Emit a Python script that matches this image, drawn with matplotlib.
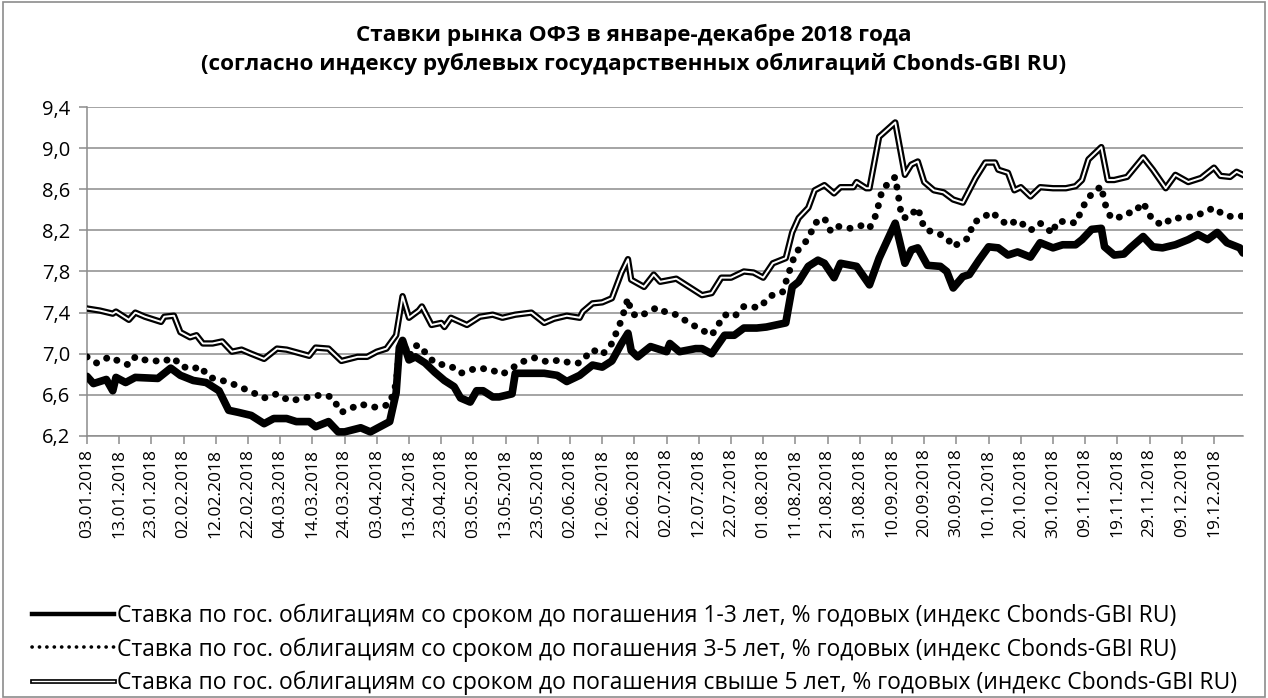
import numpy as np
import pandas as pd
import matplotlib
matplotlib.use("Agg")
import matplotlib.pyplot as plt
from matplotlib.lines import Line2D
from matplotlib.patches import Rectangle
from matplotlib.ticker import FuncFormatter

plt.rcParams['font.family'] = ['Open Sans', 'DejaVu Sans']

# ставки 1-3 года
dates_1_3 = ["03.01", "05.01", "09.01", "11.01", "12.01", "15.01", "18.01", "25.01", "29.01", "01.02",
             "05.02", "09.02", "13.02", "16.02", "19.02", "23.02", "27.02", "02.03", "06.03", "09.03",
             "13.03", "15.03", "19.03", "22.03", "24.03", "29.03", "01.04", "04.04", "07.04", "09.04",
             "10.04", "11.04", "13.04", "15.04", "18.04", "21.04", "24.04", "27.04", "29.04", "02.05",
             "04.05", "06.05", "09.05", "11.05", "15.05", "16.05", "21.05", "25.05", "29.05", "01.06",
             "05.06", "09.06", "12.06", "15.06", "18.06", "20.06", "21.06", "23.06", "27.06", "02.07",
             "03.07", "06.07", "11.07", "13.07", "16.07", "20.07", "23.07", "26.07", "30.07", "02.08",
             "08.08", "10.08", "12.08", "15.08", "18.08", "20.08", "23.08", "25.08", "30.08", "03.09",
             "06.09", "11.09", "14.09", "16.09", "18.09", "21.09", "25.09", "27.09", "29.09", "02.10",
             "04.10", "07.10", "10.10", "13.10", "16.10", "19.10", "23.10", "26.10", "30.10", "02.11",
             "06.11", "08.11", "11.11", "14.11", "15.11", "18.11", "21.11", "23.11", "27.11", "30.11",
             "03.12", "07.12", "11.12", "14.12", "17.12", "20.12", "23.12", "27.12", "28.12"]
rate_1_3 = [6.78, 6.71, 6.75, 6.64, 6.77, 6.72, 6.77, 6.76, 6.86, 6.79,
            6.74, 6.72, 6.64, 6.45, 6.43, 6.40, 6.32, 6.37, 6.37, 6.34,
            6.34, 6.29, 6.34, 6.24, 6.24, 6.28, 6.24, 6.29, 6.34, 6.62,
            7.06, 7.13, 6.94, 6.97, 6.91, 6.82, 6.74, 6.68, 6.57, 6.53,
            6.64, 6.64, 6.58, 6.58, 6.61, 6.81, 6.81, 6.81, 6.79, 6.73,
            6.79, 6.89, 6.87, 6.93, 7.10, 7.20, 7.03, 6.97, 7.07, 7.02,
            7.10, 7.02, 7.05, 7.05, 7.00, 7.18, 7.18, 7.25, 7.25, 7.26,
            7.30, 7.65, 7.70, 7.85, 7.91, 7.88, 7.74, 7.88, 7.85, 7.67,
            7.93, 8.27, 7.88, 8.01, 8.03, 7.86, 7.85, 7.80, 7.64, 7.75,
            7.77, 7.91, 8.04, 8.03, 7.96, 7.99, 7.94, 8.08, 8.03, 8.06,
            8.06, 8.11, 8.21, 8.22, 8.04, 7.96, 7.97, 8.03, 8.14, 8.04,
            8.03, 8.06, 8.11, 8.16, 8.11, 8.18, 8.08, 8.03, 7.98]

# ставки 3-5 лет
dates_3_5 = ["03.01", "06.01", "10.01", "12.01", "16.01", "18.01", "20.01", "23.01", "26.01", "30.01",
             "01.02", "05.02", "07.02", "10.02", "13.02", "17.02", "20.02", "23.02", "27.02", "03.03",
             "07.03", "13.03", "17.03", "20.03", "23.03", "26.03", "29.03", "02.04", "05.04", "07.04",
             "09.04", "10.04", "11.04", "13.04", "15.04", "17.04", "18.04", "21.04", "24.04", "26.04",
             "29.04", "04.05", "08.05", "12.05", "15.05", "18.05", "22.05", "26.05", "30.05", "02.06",
             "05.06", "09.06", "12.06", "15.06", "18.06", "20.06", "21.06", "23.06", "26.06", "29.06",
             "02.07", "05.07", "09.07", "13.07", "16.07", "18.07", "20.07", "23.07", "26.07", "31.07",
             "03.08", "07.08", "09.08", "11.08", "14.08", "16.08", "17.08", "20.08", "22.08", "24.08",
             "28.08", "01.09", "03.09", "05.09", "06.09", "07.09", "11.09", "12.09", "13.09", "15.09",
             "18.09", "20.09", "22.09", "25.09", "27.09", "29.09", "01.10", "04.10", "05.10", "08.10",
             "11.10", "13.10", "16.10", "19.10", "23.10", "26.10", "30.10", "31.10", "03.11", "06.11",
             "09.11", "10.11", "12.11", "14.11", "15.11", "17.11", "20.11", "22.11", "24.11", "27.11",
             "29.11", "30.11", "03.12", "06.12", "10.12", "14.12", "19.12", "22.12", "25.12", "28.12"]
rate_3_5 = [6.97, 6.91, 6.97, 6.94, 6.89, 6.97, 6.94, 6.94, 6.92, 6.96,
            6.88, 6.85, 6.88, 6.77, 6.75, 6.71, 6.67, 6.63, 6.57, 6.61,
            6.54, 6.58, 6.60, 6.58, 6.43, 6.47, 6.51, 6.48, 6.49, 6.51,
            6.71, 7.03, 7.13, 6.97, 7.08, 7.07, 7.01, 6.91, 6.89, 6.88,
            6.81, 6.86, 6.85, 6.80, 6.86, 6.92, 6.96, 6.92, 6.94, 6.91,
            6.91, 7.04, 6.99, 7.10, 7.33, 7.54, 7.40, 7.36, 7.40, 7.45,
            7.40, 7.38, 7.30, 7.23, 7.18, 7.28, 7.38, 7.36, 7.46, 7.45,
            7.56, 7.60, 7.79, 7.98, 8.08, 8.19, 8.27, 8.32, 8.19, 8.24,
            8.22, 8.25, 8.22, 8.35, 8.47, 8.60, 8.72, 8.53, 8.33, 8.32,
            8.42, 8.22, 8.19, 8.16, 8.13, 8.04, 8.08, 8.13, 8.27, 8.32,
            8.38, 8.32, 8.25, 8.30, 8.20, 8.27, 8.17, 8.28, 8.29, 8.27,
            8.47, 8.52, 8.58, 8.63, 8.47, 8.32, 8.33, 8.37, 8.37, 8.47,
            8.35, 8.30, 8.25, 8.32, 8.32, 8.35, 8.42, 8.35, 8.33, 8.34]

# ставки свыше 5 лет
dates_5 = ["03.01", "07.01", "11.01", "12.01", "16.01", "18.01", "21.01", "26.01", "27.01", "30.01",
           "01.02", "04.02", "06.02", "08.02", "11.02", "14.02", "17.02", "20.02", "23.02", "27.02",
           "03.03", "06.03", "13.03", "15.03", "19.03", "23.03", "28.03", "31.03", "03.04", "06.04",
           "09.04", "11.04", "13.04", "16.04", "17.04", "20.04", "23.04", "24.04", "26.04", "01.05",
           "05.05", "09.05", "12.05", "16.05", "21.05", "25.05", "28.05", "01.06", "05.06", "06.06",
           "09.06", "12.06", "15.06", "18.06", "20.06", "21.06", "25.06", "28.06", "30.06", "05.07",
           "09.07", "13.07", "16.07", "19.07", "22.07", "26.07", "29.07", "01.08", "04.08", "08.08",
           "10.08", "12.08", "15.08", "17.08", "20.08", "23.08", "25.08", "29.08", "30.08", "02.09",
           "03.09", "06.09", "11.09", "14.09", "16.09", "18.09", "20.09", "23.09", "26.09", "29.09",
           "02.10", "06.10", "09.10", "12.10", "13.10", "16.10", "18.10", "20.10", "23.10", "26.10",
           "30.10", "03.11", "06.11", "08.11", "10.11", "14.11", "16.11", "18.11", "22.11", "27.11",
           "30.11", "04.12", "07.12", "11.12", "15.12", "19.12", "21.12", "24.12", "26.12", "28.12"]
rate_5 = [7.44, 7.42, 7.39, 7.41, 7.33, 7.40, 7.36, 7.31, 7.36, 7.37,
          7.21, 7.16, 7.18, 7.10, 7.10, 7.12, 7.02, 7.04, 7.00, 6.95,
          7.05, 7.04, 6.98, 7.06, 7.05, 6.93, 6.97, 6.97, 7.02, 7.05,
          7.18, 7.56, 7.35, 7.42, 7.46, 7.28, 7.30, 7.26, 7.35, 7.28,
          7.36, 7.38, 7.35, 7.38, 7.40, 7.30, 7.34, 7.37, 7.35, 7.41,
          7.49, 7.50, 7.54, 7.79, 7.92, 7.72, 7.65, 7.77, 7.70, 7.73,
          7.65, 7.57, 7.59, 7.74, 7.74, 7.80, 7.79, 7.74, 7.88, 7.93,
          8.18, 8.32, 8.42, 8.59, 8.64, 8.56, 8.62, 8.62, 8.67, 8.61,
          8.61, 9.11, 9.25, 8.74, 8.84, 8.87, 8.67, 8.59, 8.57, 8.50,
          8.47, 8.71, 8.86, 8.86, 8.79, 8.76, 8.59, 8.62, 8.53, 8.62,
          8.61, 8.61, 8.63, 8.69, 8.89, 9.01, 8.69, 8.69, 8.72, 8.91,
          8.79, 8.61, 8.74, 8.67, 8.71, 8.81, 8.73, 8.72, 8.77, 8.74]

labels = ["Ставка по гос. облигациям со сроком до погашения 1-3 лет, % годовых (индекс Cbonds-GBI RU)",
          "Ставка по гос. облигациям со сроком до погашения 3-5 лет, % годовых (индекс Cbonds-GBI RU)",
          "Ставка по гос. облигациям со сроком до погашения свыше 5 лет, % годовых (индекс Cbonds-GBI RU)"]


def to_dates(lst):
    return pd.to_datetime([d + ".2018" for d in lst], format="%d.%m.%Y")


d1 = to_dates(dates_1_3)
d2 = to_dates(dates_3_5)
d3 = to_dates(dates_5)

fig = plt.figure(figsize=(12.68, 6.98), dpi=100)
ax = fig.add_axes([87 / 1268, 1 - 436 / 698, (1243 - 87) / 1268, (436 - 107) / 698])

grid_c = "#8c8c8c"

# >5 лет: двойная линия
ax.plot(d3, rate_5, color="black", lw=4.6, solid_joinstyle="round", zorder=3)
ax.plot(d3, rate_5, color="white", lw=1.4, solid_joinstyle="round", zorder=4)
# 3-5 лет: круглые точки
ax.plot(d2, rate_3_5, color="black", lw=5.0, linestyle=(0, (0.02, 1.6)),
        dash_capstyle="round", zorder=3)
# 1-3 года: жирная линия
ax.plot(d1, rate_1_3, color="black", lw=5.5, solid_joinstyle="round",
        solid_capstyle="round", zorder=3)

ax.set_ylim(6.2, 9.4)
ax.set_yticks(np.arange(6.2, 9.41, 0.4))
ax.yaxis.set_major_formatter(FuncFormatter(lambda v, p: ("%.1f" % v).replace(".", ",")))
ax.grid(axis="y", color=grid_c, lw=1.1)
ax.set_axisbelow(True)

xticks = pd.date_range("2018-01-03", "2018-12-28", freq="10D")
ax.set_xlim(pd.Timestamp("2018-01-03"), pd.Timestamp("2018-12-28"))
ax.set_xticks(xticks)
ax.set_xticklabels([t.strftime("%d.%m.%Y") for t in xticks], rotation=90)

for s in ["top", "right"]:
    ax.spines[s].set_visible(False)
for s in ["left", "bottom"]:
    ax.spines[s].set_color(grid_c)
    ax.spines[s].set_linewidth(1.1)
ax.tick_params(axis="both", colors=grid_c, length=6, width=1.1, labelcolor="black", labelsize=12.5)
ax.tick_params(axis="x", pad=3)
ax.tick_params(axis="y", pad=6, labelsize=14.5)

fig.text(0.5, 0.966, "Ставки рынка ОФЗ в январе-декабре 2018 года\n"
         "(согласно индексу рублевых государственных облигаций Cbonds-GBI RU)",
         ha="center", va="top", fontsize=16.2, fontweight="bold", linespacing=1.38)

h1 = Line2D([], [], color="black", lw=3.2)
h2 = Line2D([], [], color="black", lw=2.6, linestyle=(0, (0.05, 2.0)), dash_capstyle="round")
h3a = Line2D([], [], color="black", lw=3.4)
h3b = Line2D([], [], color="white", lw=1.0)
fig.legend([h1, h2, (h3a, h3b)], labels, loc="upper left", bbox_to_anchor=(0.018, 0.149),
           frameon=False, fontsize=16.5, handlelength=3.6, handletextpad=0.1,
           labelspacing=0.42, borderaxespad=0)

fig.patches.append(Rectangle((0.002, 0.002), 0.996, 0.995, transform=fig.transFigure,
                             fill=False, edgecolor=grid_c, lw=1.2))

fig.savefig("out.png", dpi=100)
